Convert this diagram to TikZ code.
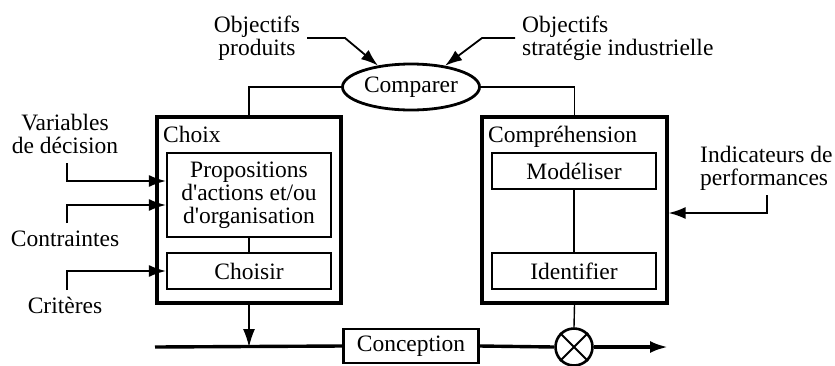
\documentclass[tikz,border=0pt]{standalone}
\usepackage{fontspec}
\setmainfont{Liberation Serif}
\usetikzlibrary{shapes.geometric,arrows.meta,calc}

\tikzset{
    txt/.style={font=\fontsize{23.5}{23}\selectfont, inner sep=0pt},
    bigbox/.style={draw, line width=3.2pt, minimum width=184pt, minimum height=186pt},
    smallbox/.style={draw, line width=2.2pt, minimum width=164pt, txt, align=center},
    thin/.style={line width=1.4pt},
    mainline/.style={line width=3.4pt},
    inarrow/.style={line width=1.8pt, -{Latex[length=17pt,width=12pt]}},
}

\begin{document}
\begin{tikzpicture}[x=1pt,y=-1pt]
    \useasboundingbox (0,0) rectangle (835,365);

    \node [ellipse, draw, line width=2.8pt, minimum width=137pt, minimum height=46pt, txt] (comparer) at (411,87) {Comparer};

    \node [bigbox] (choix) at (249,210) {};
    \node [bigbox, minimum width=185pt] (compr) at (574.5,210) {};
    \node [txt, anchor=base west] (choixlbl) at (163,142) {Choix};
    \node [txt, anchor=base west] (comprlbl) at (488,142) {Compréhension};

    \node [smallbox, minimum height=84pt] (props) at (249,195) {Propositions\\d{\textquotesingle}actions et/ou\\d{\textquotesingle}organisation};
    \node [smallbox, minimum height=36pt] (choisir) at (249,271) {Choisir};
    \node [smallbox, minimum height=36pt] (model) at (574,171) {Modéliser};
    \node [smallbox, minimum height=36pt] (ident) at (574,271) {Identifier};
    \node [smallbox, minimum width=135pt, minimum height=34pt] (concep) at (411,346) {Conception};
    \node [circle, draw, line width=2.6pt, minimum size=37pt] (mult) at (574,347) {};

    \node [txt, align=center] (objprod) at (257,38) {Objectifs\\produits};
    \node [txt, align=left, anchor=west] (objstrat) at (522,38) {Objectifs\\stratégie industrielle};
    \node [txt, align=center] (vardec) at (65,134) {Variables\\de décision};
    \node [txt, anchor=base] (contr) at (65,246) {Contraintes};
    \node [txt, anchor=base] (crit) at (65,313) {Critères};
    \node [txt, align=left, anchor=west] (indic) at (700,168) {Indicateurs de\\performances};

    \coordinate (A0) at (307,38);
    \coordinate (A1) at (345,38);
    \coordinate (B0) at (515,38);
    \coordinate (B1) at (482,38);
    \coordinate (V0) at (67,163);
    \coordinate (C0) at (67,223);
    \coordinate (K0) at (67,290);
    \coordinate (I0) at (767,195);
    \coordinate (M0) at (155,347);
    \coordinate (M1) at (668,347);

    \draw [inarrow] (A0) -- (A1) -- (comparer.147);
    \draw [inarrow] (B0) -- (B1) -- (comparer.32);
    \draw [thin] (comparer.west) -| (choix.north);
    \draw [thin] (comparer.east) -| (compr.north);

    \draw [inarrow] (V0) |- ([yshift=14pt]props.west);
    \draw [inarrow] (C0) |- ([yshift=-10pt]props.west);
    \draw [inarrow] (K0) |- (choisir.west);
    \draw [inarrow] (I0) |- ([yshift=-3pt]compr.east);

    \draw [thin] (props.south) -- (choisir.north);
    \draw [thin] (model.south) -- (ident.north);
    \draw [thin] (compr.south) -- (mult.north);
    \draw [thin, -{Latex[length=18pt,width=12pt]}] (choix.south) -- (choix.south |- M0);

    \draw [mainline] (M0) -- (concep.west);
    \draw [mainline] (concep.east) -- (mult.west);
    \draw [mainline, -{Latex[length=18pt,width=12pt]}] (mult.east) -- (M1);
    \draw [line width=1.8pt] (mult.45) -- (mult.225) (mult.135) -- (mult.315);

\end{tikzpicture}
\end{document}
